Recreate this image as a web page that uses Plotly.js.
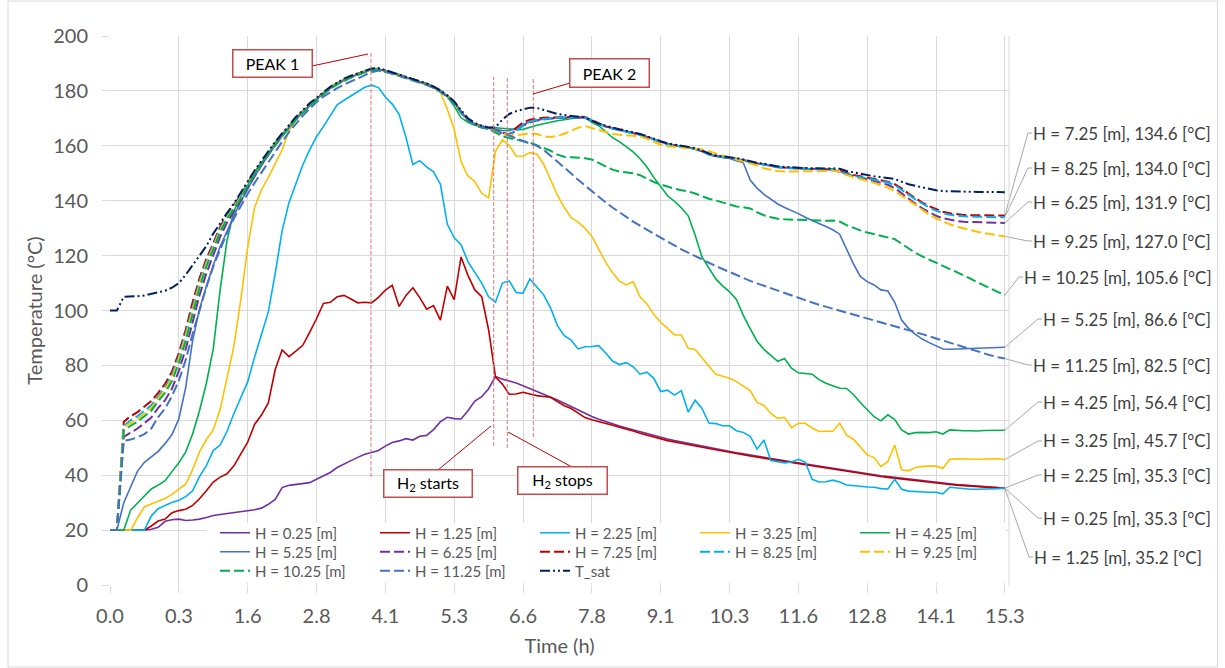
<!DOCTYPE html>
<html>
<head>
<meta charset="utf-8">
<script src="https://cdn.plot.ly/plotly-3.0.1.min.js"></script>
<style>html,body{margin:0;padding:0;background:#fff;}</style>
</head>
<body>
<div id="chart" style="width:1225px;height:668px;"></div>
<script>
// Time axis labels (every 10th sample)
const timeLabels = ['0.0','0.3','1.6','2.8','4.1','5.3','6.6','7.8','9.1','10.3','11.6','12.8','14.1','15.3'];

// Temperatures [°C] per sample, one array per measuring height
const h025 = [20,20,20,20,20,20,20.3,21,23.2,23.8,
24,23.5,23.7,24,24.6,25.3,25.7,26,26.3,26.6,
27,27.4,28,29.4,31.2,35.5,36.3,36.6,37,37.3,
38.5,39.6,41,42.8,44.2,45.3,46.5,47.6,48.3,49,
50.6,51.9,52.5,53.3,52.8,54.2,54.5,56.6,59.5,61.1,
60.6,60.5,63.5,67,68.6,71.5,76,75,74.3,73.6,
72.6,71.6,70.6,69.5,68.5,67.4,66.2,65,63.7,62.5,
61.4,60.4,59.5,58.7,57.9,57.2,56.5,55.8,55.1,54.4,
53.8,53.2,52.6,52.1,51.5,51,50.5,50.1,49.6,49.2,
48.7,48.2,47.8,47.3,46.9,46.5,46.1,45.7,45.3,44.9,
44.5,44.1,43.6,43.2,42.8,42.4,42,41.6,41.3,40.9,
40.5,40.2,39.8,39.5,39.2,38.8,38.5,38.2,37.9,37.6,
37.3,37,36.8,36.6,36.4,36.2,36,35.8,35.6,35.4,35.3];

const h125 = [20,20,20,20,20,20,21.5,23.3,24,26.3,
27.1,27.6,29,31.4,34.3,37.5,39.3,40.5,43.4,47.5,
52,58.5,61.9,66.3,78.5,85.6,83.2,85.2,87.3,92,
97,102.6,103,105,105.5,104.2,102.8,103,102.8,104.8,
107.4,109.2,101.5,105.5,108.3,104.7,100.5,101.8,96.5,108.9,
104,119.5,112.8,107.5,105,93,75.8,73.2,69.5,69.6,
70.2,69.6,69,68.7,68.4,66.8,65.3,64.3,62.6,61,
60.2,59.6,58.9,58.2,57.5,56.9,56.1,55.3,54.6,53.9,
53.2,52.6,52.1,51.6,51,50.5,50.1,49.7,49.3,48.9,
48.4,47.9,47.5,47,46.6,46.2,45.8,45.4,45,44.6,
44.2,43.8,43.3,42.9,42.5,42.1,41.7,41.3,41,40.6,
40.2,39.9,39.5,39.2,38.9,38.5,38.2,37.9,37.6,37.3,
37.1,36.8,36.6,36.4,36.2,36,35.8,35.6,35.4,35.3,35.2];

const h225 = [20,20,20,20,20,20,25.2,27.8,29,30.1,
30.9,32.2,34.3,39.5,43.5,49,51,56,62.5,68,
74,83,91,99.5,113.5,129,139.3,146.5,153,158.5,
163.3,167,171,174.9,176.6,178.1,179.9,181.3,182.1,181.2,
177.8,175.2,171.5,163,153.2,154.6,152.3,150.5,146,131.5,
126.5,124,117.8,114,110,105,103,110,110.8,106.6,
106.3,111.5,108.6,105.7,101,94.5,90.8,89.2,86,86.8,
86.9,87.2,84.5,81.6,80.3,81,79.5,76.8,77.5,75.3,
70.5,71,69.2,70.8,63,67.3,64.3,59,58.8,58,
58,56.2,55.6,54.2,49.5,52.8,45.3,44.9,44.5,44.8,
45.8,44.8,38.5,37.5,37.6,38.2,37.5,36.4,36.3,36,
35.7,35.6,35.1,35,38.5,34.9,34.2,34,33.9,33.8,
33.8,33.2,35.6,35.3,35,34.9,34.9,34.9,35,35.1,35.3];

const h325 = [20,20,20,20,24.5,28.5,29.5,30.5,31.5,33,
34.8,36.8,42,48.5,53,56.5,64,75.5,87,104,
123,137.5,144,148.5,153.5,158.5,165.5,169.3,172.2,174.7,
176.9,178.9,180.9,182.5,183.9,185,186,186.8,187.7,187.8,
187.2,186.4,185.6,184.8,184,183.2,182.3,181.2,179.5,173.3,
166,154.2,149,147,142.7,141,158,162.2,160.2,156.3,
156.2,157.5,157,153.3,147.5,142,137.5,133.8,132.2,130,
127,122.2,117.6,113.8,110.7,109.3,110.5,105,102.4,98.5,
95.7,93.5,91.1,91.1,86.2,85.8,82.6,79.8,76.8,76.1,
75.3,74.1,72.6,70.8,66.5,65.4,62.5,60.7,61.1,57.3,
58.9,58.9,57.2,55.9,56,56,59,54.6,53.1,50.3,
47.4,46.4,43.1,45,51,42,41.6,42.8,43.2,43.3,
43.3,42.5,45.8,46,45.9,45.8,45.8,45.9,45.9,46,45.7];

const h425 = [20,20,20,27.3,29.8,32.3,35,36.4,38,41.3,
44.5,48.5,55,63.5,73.5,86,107.5,125.5,136.2,141.5,
145.7,150,153.8,157.3,160.8,163.8,166.8,169.8,172.3,174.8,
177,179,181,182.6,184,185.1,186.1,186.9,187.9,188,
187.4,186.6,185.8,185,184.2,183.4,182.5,181.4,179.9,177.8,
174.5,170.2,168.6,167.5,166.9,166.5,166.6,166.3,166,165.9,
166,166.8,167.5,168,168.6,169.1,169.5,169.9,170.3,170.3,
168.6,167.3,165.3,163,161.5,159.8,157.8,155.3,152.3,148.5,
145,141.8,139.8,137.4,134.5,127.5,119.5,115.5,111.5,109,
106.8,104,98.2,93.4,88.8,85.8,83.8,81.5,82.5,79,
77.3,77.1,76.8,74.8,73.5,72.6,71.7,71.6,69.4,66.5,
63.8,61.3,59.8,62,60.3,56.5,55,55.5,55.6,55.5,
55.8,55,56.5,56.3,56.2,56.2,56.1,56.3,56.4,56.5,56.4];

const h525 = [20,20,30,36,41.5,44.7,46.8,48.7,51.5,54.8,
60.5,72,89,100.5,108.8,116.5,123.3,129.2,134.5,139.7,
144.5,148.8,152.8,156.6,160.2,163.5,166.6,169.6,172.2,174.7,
177,179,181,182.6,184,185.1,186.1,186.9,187.8,187.9,
187.3,186.5,185.7,184.9,184.1,183.3,182.4,181.3,179.9,178.1,
175.8,172.3,169.3,167.8,166.9,166.4,166,165.6,165.5,166.5,
167.8,168.8,169.4,169.8,170,170.2,170.3,170.4,170.4,170.3,
169.2,168,167.1,166.4,165.8,165.3,164.8,164.1,163.3,162.3,
161.5,160.7,160.3,159.8,159.3,158.9,158.1,157,156.3,155.9,
155.4,154.6,153.8,147.5,144.6,142.3,140.5,138.8,137.5,136.5,
135.3,134,132.7,131.7,130.6,129.4,127.8,122.5,117,112.4,
110.5,109.3,107.5,107.1,103,96.5,93.5,91.3,89.6,88.3,
87,86,85.9,86,86.1,86.2,86.4,86.3,86.5,86.5,86.6];

const h625 = [20,20,54,55.5,57,59,61,64.5,67.3,71.5,
78,86,95.5,105.5,113.5,120.2,126.8,132,136.2,140,
144.8,149,153,156.8,160.3,163.5,166.6,169.6,172.1,174.6,
176.8,178.8,180.8,182.4,183.8,184.9,185.9,186.7,187.6,187.7,
187.1,186.3,185.5,184.7,183.9,183.1,182.2,181.1,179.7,177.9,
175.6,172.1,169.1,167.6,166.7,166.2,165.3,164.3,164.2,165.5,
167.3,168.5,169.2,169.6,169.9,170.1,170.2,170.3,170.3,170.2,
169.1,167.9,167,166.3,165.7,165.2,164.7,164,163.2,162.2,
161.4,160.6,160.2,159.7,159.2,158.8,158,156.9,156.2,155.9,
155.6,155.2,154.7,154,153.5,153.2,152.7,152.2,152,151.8,
151.7,151.6,151.5,151.4,151.4,151.3,150.5,149.6,149,148.3,
147.8,147.2,146.6,145.8,144.6,142.6,140.6,138.9,137.2,135.7,
134.5,133.6,133,132.6,132.3,132.2,132.1,132,132,131.9,131.9];

const h725 = [20,20,59.5,61.5,63,65,67,70,73.3,77.7,
84.5,93,103,111.7,118.8,124.5,130.5,135,138.5,142,
146.5,150.5,154,157.5,161,164,167,170,172.5,175,
177.2,179.2,181.2,182.8,184.2,185.3,186.3,187.1,188,188.1,
187.5,186.7,185.9,185.1,184.3,183.5,182.6,181.5,180.1,178.3,
176,172.5,169.5,168,167.1,166.6,165.8,165,164,166.5,
168.5,169.5,170,170.2,170.3,170.4,170.5,170.6,170.6,170.5,
169.3,168,167.1,166.4,165.8,165.3,164.8,164.1,163.3,162.3,
161.5,160.7,160.3,159.8,159.3,158.9,158.1,157,156.3,156,
155.7,155.3,154.8,154.1,153.6,153.3,152.8,152.3,152.1,151.9,
151.8,151.7,151.6,151.5,151.5,151.4,150.8,150,149.4,148.9,
148.4,147.9,147.4,146.9,146,144.5,142.6,140.9,139.3,138,
136.9,136,135.4,135,134.8,134.7,134.7,134.6,134.6,134.6,134.6];

const h825 = [20,20,58,60,61.5,63.5,65.5,68.7,72,76.4,
83.2,91.7,101.6,110.5,117.8,123.7,129.8,134.4,138,141.6,
146.3,150.3,153.8,157.3,160.8,163.8,166.8,169.8,172.3,174.8,
177,179,181,182.6,184,185.1,186.1,186.9,187.8,187.9,
187.3,186.5,185.7,184.9,184.1,183.3,182.4,181.3,179.9,178.1,
175.8,172.3,169.3,167.8,166.9,166.4,165.5,164.5,164,165.5,
167.5,168.8,169.5,169.8,170,170.2,170.3,170.4,170.4,170.3,
169.2,167.9,167,166.3,165.7,165.2,164.7,164,163.2,162.2,
161.4,160.6,160.2,159.7,159.2,158.8,158,156.9,156.2,155.9,
155.6,155.2,154.7,154,153.5,153.2,152.7,152.2,152,151.8,
151.7,151.6,151.5,151.4,151.4,151.3,150.6,149.7,149.1,148.6,
148.1,147.6,147.1,146.6,145.7,144.1,142.2,140.5,138.9,137.5,
136.4,135.5,134.9,134.5,134.3,134.2,134.1,134.1,134,134,134];

const h925 = [20,20,57.5,59,60.5,62.5,64.5,68,71.2,75.5,
82.2,90.5,100.4,109.5,117,123,129.2,133.9,137.6,141.2,
145.9,150,153.6,157.1,160.6,163.6,166.6,169.6,172.1,174.6,
176.9,178.9,180.9,182.5,183.9,185,186,186.8,187.7,187.8,
187.2,186.4,185.6,184.8,184,183.2,182.3,181.2,179.8,178,
175.7,172.2,169.2,167.7,166.8,166.3,165.2,164.3,163.9,163.8,
164.2,164.5,164.3,163.5,163.2,163.6,164.4,165.5,166.6,167.2,
166.5,165.7,165,164.3,164,163.9,163.8,163.5,162.5,161.3,
160.4,159.8,159.6,159.4,159.2,159.1,158.7,158,157.2,156.5,
155.8,155,154.3,153.6,152.8,151.8,151.2,150.8,150.6,150.6,
150.6,150.6,150.6,150.7,150.8,150.9,150.5,149.3,148.6,148,
147.3,146.5,145.6,144.8,143.5,141.7,140.1,138.5,136.7,134.9,
133.6,132.4,131.4,130.6,129.9,129.3,128.7,128.2,127.8,127.4,127];

const h1025 = [20,20,56.5,58,59.5,61.5,63.5,67,70,74.3,
80.8,89,98.8,108.2,116,122.2,128.5,133.4,137.2,140.8,
145.6,149.8,153.5,157,160.5,163.5,166.5,169.5,172,174.5,
176.8,178.8,180.8,182.4,183.8,184.9,185.9,186.7,187.6,187.7,
187.1,186.3,185.5,184.7,183.9,183.1,182.2,181.1,179.7,177.9,
175.6,172.1,169.1,167.6,166.7,166.2,165,163.5,162.8,162.3,
161.8,161.1,160.2,159.2,158.2,156.8,156,155.8,155.7,155.5,
155,153.8,152.5,151.3,150.6,150.2,150,149.3,148,146.8,
145.9,145.1,144.4,143.8,143.4,142.6,141.6,140.7,140.1,139.4,
138.5,137.9,137.6,137.2,135.8,134.7,134,133.4,133.2,133.1,
133,132.9,132.8,132.7,132.7,132.8,132.4,131.1,130.1,129.2,
128.4,127.8,127.3,126.8,126,124.3,122.6,121,119.7,118.5,
117.3,116.1,115.1,114,112.9,111.6,110.3,109.1,107.9,106.7,105.6];

const h1125 = [20,20,52.5,53,53.8,55,57,61.2,64.3,68.8,
74.5,82,91.5,100,108.5,116,122.5,128.3,133.5,138.2,
142.5,146.5,150.3,154,157.7,161.5,165,168.1,170.9,173.5,
175.9,177.9,179.5,181,182.3,183.4,184.4,185.6,186.8,187.4,
187.1,186.3,185.6,184.9,184.1,183.3,182.4,181.3,179.9,178.1,
175.9,172.3,169.4,167.9,167,166.5,165.8,164.6,163.6,162.6,
161.7,160.8,160,158.5,156.4,154.3,152.1,149.9,147.6,145.5,
143.4,141.4,139.4,137.5,135.7,134,132.4,130.9,129.4,128,
126.6,125.1,123.7,122.3,121,119.7,118.5,117.4,116.2,115.1,
114,112.9,111.8,110.8,109.9,109,108.1,107.2,106.3,105.4,
104.5,103.7,102.9,102.1,101.4,100.7,100,99.3,98.6,97.9,
97.2,96.5,95.8,95.1,94.4,93.7,93,92.2,91.4,90.6,
89.8,89,88.2,87.4,86.6,85.8,85,84.3,83.6,83,82.5];

const tSat = [100,100,105,105,105.2,105.5,106,106.5,107.2,108.3,
110,113,116.5,120,123.5,128,132,135.5,139,143,
147.5,151,154.5,158,161.5,164.5,167.5,170.5,173,175.5,
177.5,179.5,181.5,183,184.5,185.5,186.5,187.3,188.2,188.3,
187.6,186.8,186,185.2,184.4,183.6,182.7,181.6,180.2,178.4,
176.2,173,170,168.3,167.3,166.7,166.8,169.5,171.6,172.6,
173.3,173.9,173.8,173,172.2,171.6,171.2,171,170.6,170.3,
169.2,168,167.3,166.6,166,165.5,165,164.3,163.5,162.5,
161.7,160.9,160.5,160,159.5,159.1,158.3,157.2,156.5,156.2,
155.9,155.5,155,154.3,153.8,153.5,153,152.5,152.3,152.1,
152,151.9,151.8,151.7,151.7,151.8,151.6,150.8,150.3,149.9,
149.4,148.9,148.6,148.3,147.9,146.9,146,145.4,144.8,144.2,
143.8,143.5,143.4,143.3,143.3,143.2,143.2,143.2,143.1,143.1,143.1];

const sample = tSat.map((_, i) => i);   // category position of every reading
const tickPos = timeLabels.map((_, k) => k * 10);

const FONT = 'Lato, "Open Sans", sans-serif';
const GREY = '#595959';
const DASH = '10px,4px';

const series = [
  {name: 'H = 0.25 [m]',  y: h025,  color: '#7030A0', dash: 'solid', width: 1.6, row: 'legend'},
  {name: 'H = 1.25 [m]',  y: h125,  color: '#C00000', dash: 'solid', width: 1.6, row: 'legend'},
  {name: 'H = 2.25 [m]',  y: h225,  color: '#00B0F0', dash: 'solid', width: 1.6, row: 'legend'},
  {name: 'H = 3.25 [m]',  y: h325,  color: '#FFC000', dash: 'solid', width: 1.6, row: 'legend'},
  {name: 'H = 4.25 [m]',  y: h425,  color: '#00B050', dash: 'solid', width: 1.6, row: 'legend'},
  {name: 'H = 5.25 [m]',  y: h525,  color: '#4472C4', dash: 'solid', width: 1.6, row: 'legend2'},
  {name: 'H = 6.25 [m]',  y: h625,  color: '#7030A0', dash: DASH, width: 2, row: 'legend2'},
  {name: 'H = 7.25 [m]',  y: h725,  color: '#C00000', dash: DASH, width: 2, row: 'legend2'},
  {name: 'H = 8.25 [m]',  y: h825,  color: '#00B0F0', dash: DASH, width: 2, row: 'legend2'},
  {name: 'H = 9.25 [m]',  y: h925,  color: '#FFC000', dash: DASH, width: 2, row: 'legend2'},
  {name: 'H = 10.25 [m]', y: h1025, color: '#00B050', dash: DASH, width: 2, row: 'legend3'},
  {name: 'H = 11.25 [m]', y: h1125, color: '#4472C4', dash: DASH, width: 2, row: 'legend3'},
  {name: 'T_sat',         y: tSat,  color: '#002060', dash: '10px,3px,2px,3px,2px,3px', width: 2, row: 'legend3'}
];

const traces = series.map(s => ({
  type: 'scatter', mode: 'lines', name: s.name, x: sample, y: s.y, legend: s.row,
  line: {color: s.color, width: s.width, dash: s.dash},
  hoverinfo: 'skip'
}));

// plot-area geometry (pixels)
const L = 110, T = 36, W = 899, H = 549;
const XMAX = 130.6, YMAX = 200;
const px2paperX = px => (px - L) / W;
const py2paperY = py => (T + H - py) / H;
const px2x = px => (px - L) / W * XMAX;
const py2y = py => (T + H - py) / H * YMAX;

// end-of-line value labels: which series, where the text starts and its vertical centre
const endLabels = [
  {idx: 7,  left: 1033, cy: 133},
  {idx: 8,  left: 1033, cy: 168},
  {idx: 6,  left: 1033, cy: 202},
  {idx: 9,  left: 1033, cy: 241},
  {idx: 10, left: 1024, cy: 277},
  {idx: 5,  left: 1043, cy: 319},
  {idx: 11, left: 1033, cy: 365},
  {idx: 4,  left: 1043, cy: 402},
  {idx: 3,  left: 1043, cy: 441},
  {idx: 2,  left: 1043, cy: 475},
  {idx: 0,  left: 1043, cy: 518},
  {idx: 1,  left: 1034, cy: 557}
];

const shapes = [];
const annotations = [];

endLabels.forEach(lab => {
  const s = series[lab.idx];
  const last = s.y[s.y.length - 1];
  const x0 = (s.y.length - 1) / XMAX, y0 = last / YMAX;
  shapes.push({type: 'path', xref: 'paper', yref: 'paper',
    path: `M ${x0},${y0} L ${px2paperX(lab.left - 5)},${py2paperY(lab.cy)} L ${px2paperX(lab.left - 1)},${py2paperY(lab.cy)}`,
    line: {color: '#A6A6A6', width: 1}});
  annotations.push({xref: 'paper', yref: 'paper', x: px2paperX(lab.left - 2), y: py2paperY(lab.cy),
    xanchor: 'left', yanchor: 'middle', showarrow: false,
    text: `${s.name}, ${last.toFixed(1)} [°C]`, font: {family: FONT, size: 17, color: '#404040'}});
});

// event markers: vertical dashed guides
const guides = [
  {px: 371, top: 52, bottom: 477},
  {px: 493.7, top: 77, bottom: 446},
  {px: 507.3, top: 77, bottom: 448},
  {px: 533.3, top: 77, bottom: 437}
];
guides.forEach(g => shapes.push({type: 'line', xref: 'x', yref: 'y',
  x0: px2x(g.px), x1: px2x(g.px), y0: py2y(g.bottom), y1: py2y(g.top),
  line: {color: '#E57373', width: 1, dash: '4px,2px'}}));

// callout connectors
const connectors = [
  [312, 66, 368, 54],
  [570, 83, 533, 94],
  [438, 470, 491, 426],
  [572, 467, 508, 432]
];
connectors.forEach(c => shapes.push({type: 'line', xref: 'paper', yref: 'paper',
  x0: px2paperX(c[0]), y0: py2paperY(c[1]), x1: px2paperX(c[2]), y1: py2paperY(c[3]),
  line: {color: '#C00000', width: 1}}));

// callout boxes
const callouts = [
  {text: 'PEAK 1', cx: 272, cy: 64, w: 78, h: 26},
  {text: 'PEAK 2', cx: 609.5, cy: 72.5, w: 78, h: 27},
  {text: 'H<sub>2</sub> starts', cx: 427.5, cy: 484, w: 87, h: 26},
  {text: 'H<sub>2</sub> stops', cx: 562, cy: 481, w: 88, h: 26}
];
callouts.forEach(c => annotations.push({xref: 'paper', yref: 'paper',
  x: px2paperX(c.cx), y: py2paperY(c.cy), xanchor: 'center', yanchor: 'middle',
  showarrow: false, text: c.text, width: c.w, height: c.h, borderpad: 0,
  bgcolor: '#FFFFFF', bordercolor: '#C84B4B', borderwidth: 1.5,
  font: {family: FONT, size: 16, color: '#000000'}}));

// white legend panel
shapes.push({type: 'rect', xref: 'paper', yref: 'paper', layer: 'above',
  x0: px2paperX(207), x1: px2paperX(1006), y0: py2paperY(583), y1: py2paperY(523),
  fillcolor: '#FFFFFF', line: {width: 0}});
// right edge of plot area
shapes.push({type: 'line', xref: 'paper', yref: 'paper', x0: 1, x1: 1, y0: 0, y1: 1,
  line: {color: '#D9D9D9', width: 1}});
// chart frame
shapes.push({type: 'rect', xref: 'paper', yref: 'paper',
  x0: px2paperX(8), x1: px2paperX(1217.5), y0: py2paperY(667), y1: py2paperY(1),
  line: {color: '#D9D9D9', width: 1}, fillcolor: 'rgba(0,0,0,0)'});

// one legend per row
const legendRow = cy => ({orientation: 'h', x: px2paperX(215), xanchor: 'left', y: py2paperY(cy), yanchor: 'middle',
  entrywidth: 115, entrywidthmode: 'pixels', bgcolor: 'rgba(0,0,0,0)', itemwidth: 30,
  font: {family: FONT, size: 15, color: GREY}, traceorder: 'normal'});

const layout = {
  width: 1225, height: 668,
  margin: {l: L, r: 1225 - L - W, t: T, b: 668 - T - H, pad: 0},
  paper_bgcolor: '#FFFFFF', plot_bgcolor: '#FFFFFF',
  font: {family: FONT, color: GREY},
  showlegend: true,
  legend: legendRow(533),
  legend2: legendRow(552),
  legend3: legendRow(571),
  xaxis: {range: [0, XMAX], tickmode: 'array', tickvals: tickPos, ticktext: timeLabels,
    showgrid: true, gridcolor: '#D9D9D9', gridwidth: 1, zeroline: false, showline: false,
    ticks: 'outside', ticklen: 7, tickcolor: '#D9D9D9', tickwidth: 1, ticklabelstandoff: 6,
    tickfont: {family: FONT, size: 20, color: GREY},
    title: {text: 'Time (h)', font: {family: FONT, size: 20, color: GREY}, standoff: 12}},
  yaxis: {range: [0, YMAX], tickmode: 'array', tickvals: [0,20,40,60,80,100,120,140,160,180,200],
    showgrid: true, gridcolor: '#D9D9D9', gridwidth: 1, zeroline: false, showline: false,
    ticks: 'outside', ticklen: 7, tickcolor: '#D9D9D9', tickwidth: 1, ticklabelstandoff: 10,
    tickfont: {family: FONT, size: 20, color: GREY},
    title: {text: 'Temperature (°C)', font: {family: FONT, size: 20, color: GREY}, standoff: 5}},
  shapes: shapes,
  annotations: annotations
};

Plotly.newPlot('chart', traces, layout, {displayModeBar: false, staticPlot: true});
</script>
</body>
</html>
